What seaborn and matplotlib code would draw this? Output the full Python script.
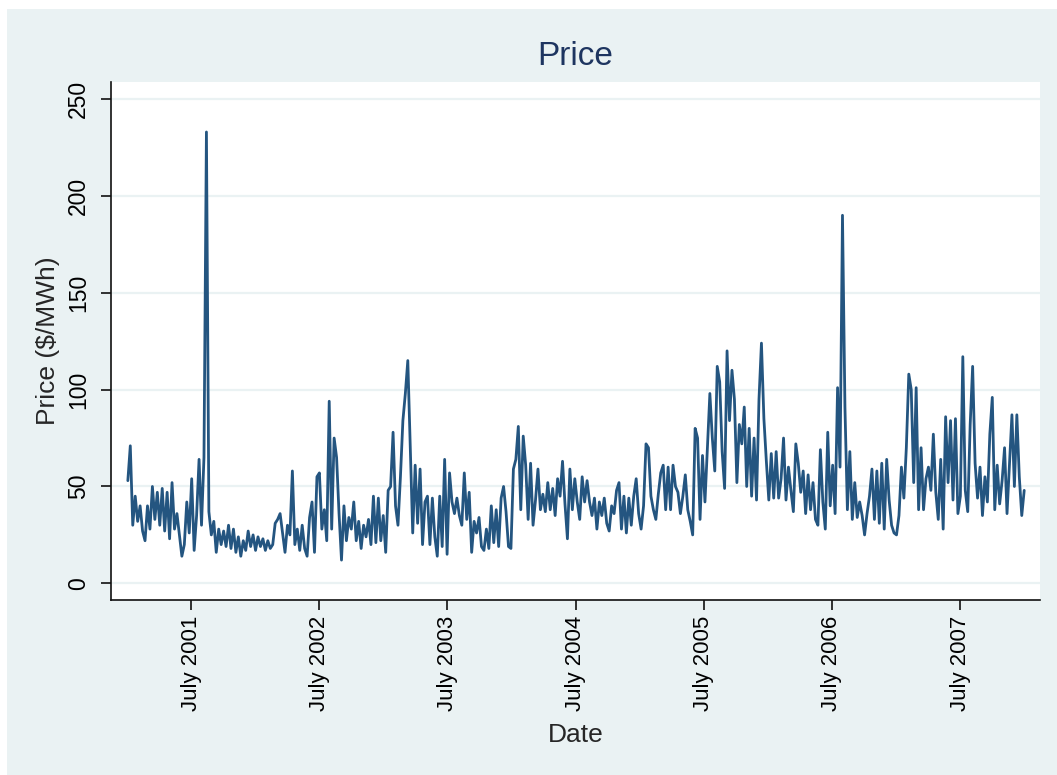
import numpy as np
import pandas as pd
import matplotlib
matplotlib.use("Agg")
import matplotlib.pyplot as plt
from matplotlib.patches import Rectangle
import seaborn as sns

# Weekly prices ($/MWh), one list per year
price_2001 = [53, 71, 30, 45, 32, 40, 27, 22, 40, 28,
              50, 33, 47, 30, 49, 27, 47, 23, 52, 28,
              36, 25, 14, 20, 42, 26, 54, 17, 35, 64,
              30, 65, 233, 37, 25, 32, 16, 28, 20, 27,
              19, 30, 18, 28, 16, 24, 14, 22, 17, 27,
              19, 25]
price_2002 = [17, 24, 19, 23, 17, 22, 18, 20, 31, 33,
              36, 26, 16, 30, 25, 58, 20, 28, 17, 30,
              18, 14, 34, 42, 16, 55, 57, 28, 38, 22,
              94, 28, 75, 65, 36, 12, 40, 22, 34, 28,
              42, 22, 32, 18, 30, 24, 33, 20, 45, 21,
              44, 22]
price_2003 = [35, 16, 48, 50, 78, 40, 30, 55, 84, 98,
              115, 70, 26, 61, 31, 59, 20, 42, 45, 20,
              44, 24, 14, 45, 19, 64, 15, 57, 42, 36,
              44, 35, 30, 57, 33, 47, 16, 32, 26, 34,
              19, 17, 28, 18, 40, 21, 38, 19, 44, 50,
              37, 19]
price_2004 = [18, 59, 64, 81, 38, 76, 61, 33, 62, 30,
              43, 59, 38, 46, 37, 52, 38, 49, 35, 54,
              45, 63, 41, 23, 59, 38, 54, 42, 33, 55,
              42, 53, 42, 35, 44, 28, 42, 35, 44, 31,
              27, 40, 36, 48, 52, 28, 45, 26, 44, 30,
              45, 54]
price_2005 = [36, 28, 40, 72, 70, 45, 38, 33, 46, 57,
              61, 38, 60, 38, 61, 50, 47, 36, 45, 56,
              38, 32, 25, 80, 75, 33, 66, 42, 70, 98,
              75, 58, 112, 104, 68, 49, 120, 84, 110, 95,
              52, 82, 72, 91, 50, 80, 45, 75, 43, 95,
              124, 85]
price_2006 = [63, 43, 67, 44, 68, 44, 54, 75, 43, 60,
              48, 37, 72, 62, 47, 58, 36, 56, 38, 52,
              33, 30, 69, 42, 28, 78, 40, 61, 36, 101,
              60, 190, 91, 38, 68, 33, 52, 34, 42, 35,
              25, 36, 45, 59, 33, 58, 31, 62, 28, 64,
              43, 30]
price_2007 = [26, 25, 35, 60, 44, 70, 108, 100, 52, 101,
              38, 70, 38, 54, 60, 48, 77, 47, 33, 64,
              28, 86, 52, 84, 43, 85, 36, 45, 117, 48,
              37, 82, 112, 62, 44, 60, 35, 55, 42, 77,
              96, 38, 61, 41, 53, 70, 36, 62, 87, 50,
              87, 55, 35, 48]

tick_dates = ["2001-07-01", "2002-07-01", "2003-07-01", "2004-07-01",
              "2005-07-01", "2006-07-01", "2007-07-01"]
tick_labels = ["July 2001", "July 2002", "July 2003", "July 2004",
               "July 2005", "July 2006", "July 2007"]
y_ticks = [0, 50, 100, 150, 200, 250]

prices = price_2001 + price_2002 + price_2003 + price_2004 + price_2005 + price_2006 + price_2007
df = pd.DataFrame({
    "date": pd.date_range("2001-01-01", periods=len(prices), freq="7D"),
    "price": prices,
})

sns.set_style("white")
plt.rcParams["font.family"] = ["Liberation Sans", "DejaVu Sans"]

W, H = 1057, 775
BG = "#EAF2F3"
fig = plt.figure(figsize=(W / 100, H / 100), dpi=100, facecolor="white")
fig.patches.append(Rectangle((7 / W, 0), 1 - 7 / W, 1 - 9 / H, transform=fig.transFigure,
                             facecolor=BG, edgecolor="none", zorder=-5))

ax = fig.add_axes([111 / W, 1 - 600 / H, 929 / W, 518 / H])
ax.set_zorder(1)
ax.set_facecolor("white")

sns.lineplot(data=df, x="date", y="price", ax=ax, color="#245580", lw=2.0)

ax.set_ylim(-8.6, 258.8)
ax.set_xlim(pd.Timestamp("2000-11-14"), pd.Timestamp("2008-02-14"))

ax.set_yticks(y_ticks)
ax.set_yticklabels([str(v) for v in y_ticks], rotation=90, va="center", fontsize=16.5)
ax.set_xticks(pd.to_datetime(tick_dates))
ax.set_xticklabels(tick_labels, rotation=90, fontsize=16)

ax.yaxis.grid(True, color=BG, lw=1.6)
ax.xaxis.grid(False)
ax.set_axisbelow(True)

for s in ["top", "right"]:
    ax.spines[s].set_visible(False)
for s in ["left", "bottom"]:
    ax.spines[s].set_color("#111111")
    ax.spines[s].set_linewidth(1.2)

ax.tick_params(axis="both", direction="out", length=7, width=1.2, color="#111111",
               labelcolor="black", left=True, bottom=True)
ax.tick_params(axis="y", pad=8)
ax.tick_params(axis="x", pad=4)

ax.set_xlabel("Date", fontsize=19, labelpad=9)
ax.set_ylabel("Price ($/MWh)", fontsize=19, labelpad=5)
ax.set_title("Price", fontsize=24, color="#1E3560", pad=12)

fig.savefig("out.png", dpi=100, facecolor=fig.get_facecolor())
